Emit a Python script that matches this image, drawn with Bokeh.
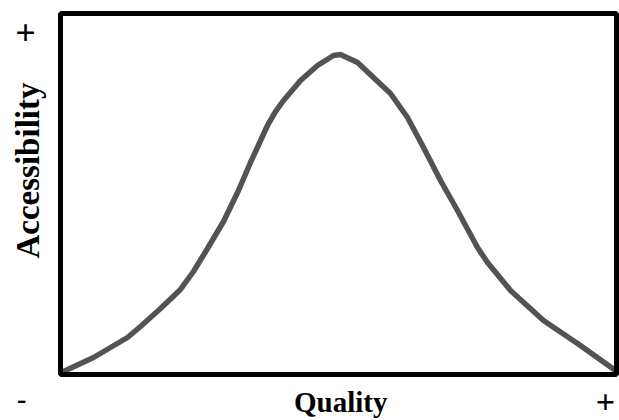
import math
from bokeh.plotting import figure
from bokeh.models import Label, Range1d, BoxAnnotation
from bokeh.embed import file_html
from bokeh.resources import INLINE

# Curve (Quality 0..100, Accessibility 0..100)
quality = [0.54, 5.94, 12.05, 14.39, 17.99, 21.58, 23.92, 26.44, 29.32, 32.01,
           34.17, 37.23, 38.67, 40.11, 43.17, 46.22, 49.10, 50.36, 53.42, 56.29, 59.35,
           62.41, 65.29, 68.35, 71.40, 75.00, 76.80, 80.94, 86.87, 92.99, 99.82]
accessibility = [0.83, 4.71, 10.25, 13.30, 18.28, 23.55, 28.53, 34.90, 42.38, 50.97,
                 58.73, 68.98, 72.85, 75.90, 81.44, 85.60, 88.37, 88.64, 86.43, 82.27, 77.84,
                 71.19, 62.88, 53.74, 45.43, 35.18, 31.02, 23.27, 14.96, 8.59, 1.11]

x_title = "Quality"
y_title = "Accessibility"
end_labels = ["-", "+", "+"]

FONT = "Liberation Serif"

W, H = 619, 420
# frame of the chart box in pixels: left 60, right 616, top 13, bottom 374
sx = 556 / 100.0
sy = 361 / 100.0
x0 = -60 / sx
x1 = x0 + W / sx
y0 = -(H - 374) / sy
y1 = y0 + H / sy

p = figure(width=W, height=H, output_backend="svg", toolbar_location=None,
           x_range=Range1d(x0, x1), y_range=Range1d(y0, y1),
           x_axis_location=None, y_axis_location=None, min_border=0)
p.grid.visible = False
p.outline_line_color = None
p.background_fill_color = "white"
p.border_fill_color = "white"

p.line(quality, accessibility, line_color="#535353", line_width=5.5, line_cap="round", line_join="round")

p.add_layout(BoxAnnotation(left=0, right=100, bottom=0, top=100, fill_alpha=0,
                           line_color="black", line_alpha=1.0, line_width=5))

p.add_layout(Label(x=50.4, y=-7.6, text=x_title, text_font=FONT, text_font_size="29px",
                   text_font_style="bold", text_align="center", text_baseline="middle",
                   text_color="black"))
p.add_layout(Label(x=-5.8, y=56.5, text=y_title, text_font=FONT, text_font_size="33px",
                   text_font_style="bold", text_align="center", text_baseline="middle",
                   angle=math.pi / 2, text_color="black"))
p.add_layout(Label(x=-7.0, y=-6.9, text=end_labels[0], text_font=FONT, text_font_size="28px",
                   text_font_style="bold", text_align="center", text_baseline="middle",
                   text_color="black"))
p.add_layout(Label(x=-6.3, y=94.5, text=end_labels[1], text_font=FONT, text_font_size="36px",
                   text_font_style="bold", text_align="center", text_baseline="middle",
                   text_color="black"))
p.add_layout(Label(x=98.0, y=-7.5, text=end_labels[2], text_font=FONT, text_font_size="34px",
                   text_font_style="bold", text_align="center", text_baseline="middle",
                   text_color="black"))

open("out.html", "w").write(file_html(p, INLINE))
